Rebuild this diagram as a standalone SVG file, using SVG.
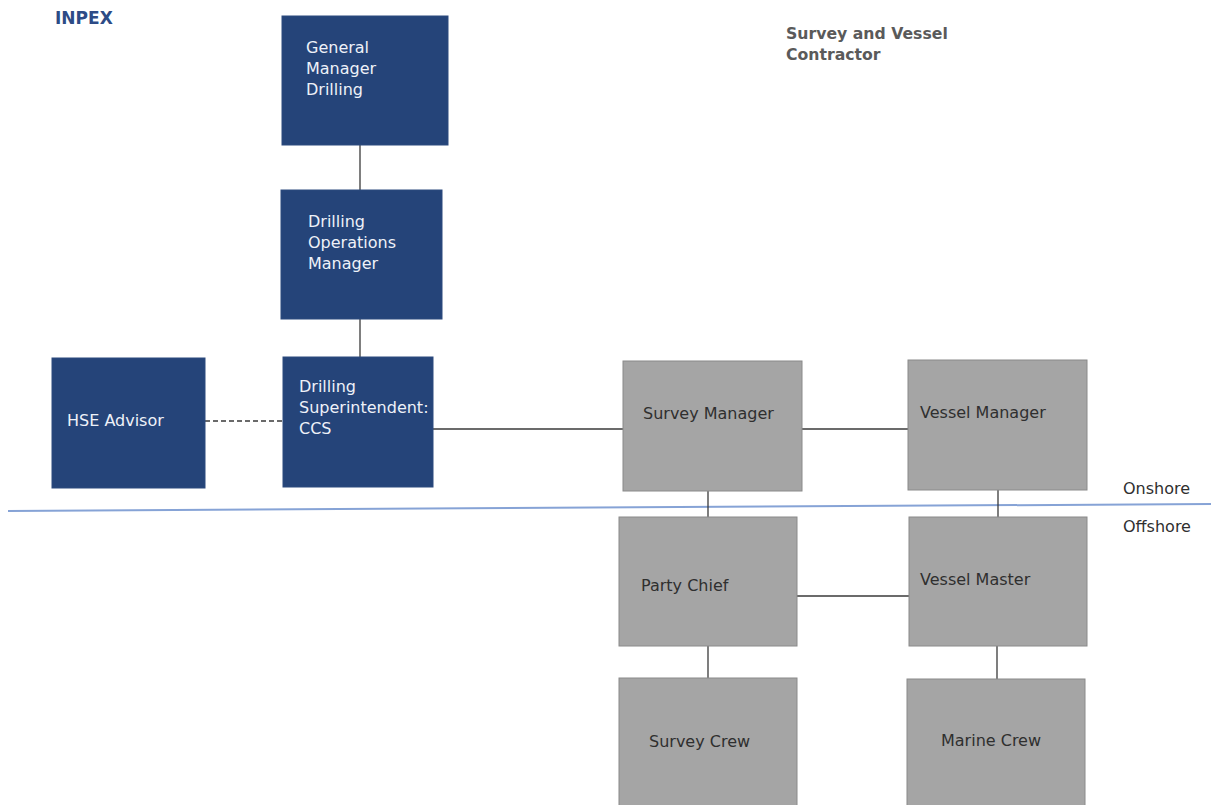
<svg xmlns="http://www.w3.org/2000/svg" width="1211" height="805" viewBox="0 0 1211 805">
<style>
.bl{fill:#254479;stroke:#2c4a7e;stroke-width:1}
.gr{fill:#a5a5a5;stroke:#8a8a8a;stroke-width:1}
.tw{font-family:"DejaVu Sans",sans-serif;font-size:16px;fill:#eef1f8}
.tg{font-family:"DejaVu Sans",sans-serif;font-size:16px;fill:#2f2f2f}
.hd{font-family:"DejaVu Sans",sans-serif;font-size:15.7px;font-weight:bold}
.ln{stroke:#3a3a3a;stroke-width:1.3;fill:none}
</style>
<rect width="1211" height="805" fill="#ffffff"/>
<text class="hd" x="55" y="24" fill="#2d4b86" style="font-size:17px">INPEX</text>
<text class="hd" x="786" y="39" fill="#5a5a5a">Survey and Vessel</text>
<text class="hd" x="786" y="60" fill="#5a5a5a">Contractor</text>
<path d="M8 511 L1211 504" stroke="#86a3d6" stroke-width="2" fill="none"/>
<text class="tg" x="1123" y="494">Onshore</text>
<text class="tg" x="1123" y="532">Offshore</text>
<g id="connectors">
<line class="ln" x1="360" y1="145" x2="360" y2="190"/>
<line class="ln" x1="360" y1="319" x2="360" y2="357"/>
<line class="ln" x1="205" y1="421" x2="283" y2="421" stroke-dasharray="5,3"/>
<line class="ln" x1="433" y1="429" x2="623" y2="429"/>
<line class="ln" x1="802" y1="429" x2="908" y2="429"/>
<line class="ln" x1="708" y1="491" x2="708" y2="517"/>
<line class="ln" x1="998" y1="490" x2="998" y2="517"/>
<line class="ln" x1="797" y1="596" x2="909" y2="596"/>
<line class="ln" x1="708" y1="646" x2="708" y2="678"/>
<line class="ln" x1="997" y1="646" x2="997" y2="679"/>
</g>
<g id="gm">
<rect class="bl" x="282" y="16" width="166" height="129"/>
<text class="tw" x="306" y="53">General</text>
<text class="tw" x="306" y="74">Manager</text>
<text class="tw" x="306" y="95">Drilling</text>
</g>
<g id="dom">
<rect class="bl" x="281" y="190" width="161" height="129"/>
<text class="tw" x="308" y="227">Drilling</text>
<text class="tw" x="308" y="248">Operations</text>
<text class="tw" x="308" y="269">Manager</text>
</g>
<g id="hse">
<rect class="bl" x="52" y="358" width="153" height="130"/>
<text class="tw" x="67" y="426">HSE Advisor</text>
</g>
<g id="ds">
<rect class="bl" x="283" y="357" width="150" height="130"/>
<text class="tw" x="299" y="392">Drilling</text>
<text class="tw" x="299" y="413">Superintendent:</text>
<text class="tw" x="299" y="434">CCS</text>
</g>
<g id="sm">
<rect class="gr" x="623" y="361" width="179" height="130"/>
<text class="tg" x="643" y="419">Survey Manager</text>
</g>
<g id="vm">
<rect class="gr" x="908" y="360" width="179" height="130"/>
<text class="tg" x="920" y="418">Vessel Manager</text>
</g>
<g id="pc">
<rect class="gr" x="619" y="517" width="178" height="129"/>
<text class="tg" x="641" y="591">Party Chief</text>
</g>
<g id="vms">
<rect class="gr" x="909" y="517" width="178" height="129"/>
<text class="tg" x="920" y="585">Vessel Master</text>
</g>
<g id="sc">
<rect class="gr" x="619" y="678" width="178" height="130"/>
<text class="tg" x="649" y="747">Survey Crew</text>
</g>
<g id="mc">
<rect class="gr" x="907" y="679" width="178" height="130"/>
<text class="tg" x="941" y="746">Marine Crew</text>
</g>
</svg>
